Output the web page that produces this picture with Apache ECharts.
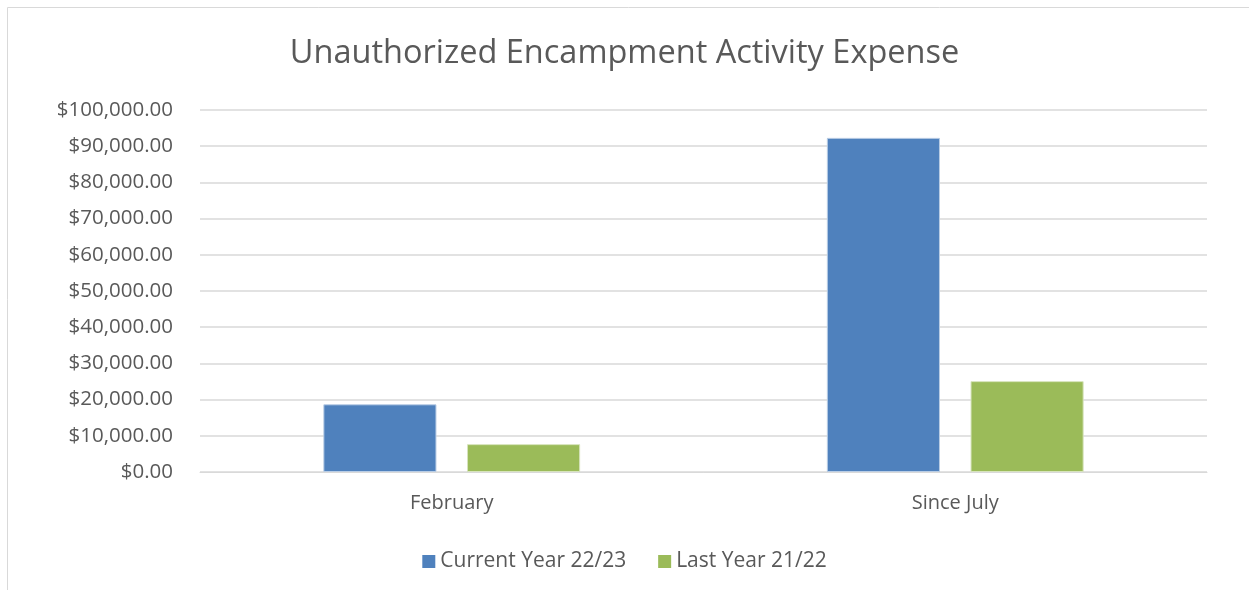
<!DOCTYPE html>
<html><head><meta charset="utf-8">
<script src="https://cdn.jsdelivr.net/npm/echarts@6/dist/echarts.min.js"></script>
<style>html,body{margin:0;padding:0;background:#fff}#c{width:1249px;height:590px}</style>
</head><body><div id="c"></div>
<script>
const categories = ["February", "Since July"];
const currentYear = [18700, 92300];
const lastYear = [7700, 25100];
const seriesNames = ["Current Year 22/23", "Last Year 21/22"];
const titleText = "Unauthorized Encampment Activity Expense";

const chart = echarts.init(document.getElementById('c'));
const font = "'Open Sans', 'Noto Sans', sans-serif";
chart.setOption({
  animation: false,
  textStyle: { fontFamily: font },
  graphic: [{ type: 'rect', shape: { x: 7.5, y: 7.5, width: 1250, height: 600 }, style: { fill: null, stroke: '#d9d9d9', lineWidth: 1 } }],
  title: { text: titleText, left: 'center', top: 32, textStyle: { fontFamily: font, fontSize: 32.5, fontWeight: 'normal', color: '#595959' } },
  legend: { bottom: 13, left: 'center', itemWidth: 13, itemHeight: 13, itemGap: 32, icon: 'rect',
    itemStyle: { borderWidth: 0 },
    textStyle: { fontSize: 21, color: '#595959', fontFamily: font }, data: seriesNames },
  grid: { left: 200, right: 42, top: 110, bottom: 118 },
  xAxis: { type: 'category', data: categories,
    axisLine: { lineStyle: { color: '#d9d9d9' } }, axisTick: { show: false },
    axisLabel: { fontSize: 20, color: '#595959', margin: 21, fontFamily: font } },
  yAxis: { type: 'value', min: 0, max: 100000, interval: 10000,
    axisLine: { show: false }, axisTick: { show: false },
    splitLine: { lineStyle: { color: '#d9d9d9', width: 1.5 } },
    axisLabel: { fontSize: 20.5, color: '#595959', margin: 27, fontFamily: font,
      formatter: v => '$' + v.toLocaleString('en-US', { minimumFractionDigits: 2, maximumFractionDigits: 2 }) } },
  series: [
    { name: seriesNames[0], type: 'bar', data: currentYear, barGap: '27%', barCategoryGap: '49%',
      itemStyle: { color: '#4F81BD', borderColor: '#b9cde5', borderWidth: 1 } },
    { name: seriesNames[1], type: 'bar', data: lastYear,
      itemStyle: { color: '#9BBB59', borderColor: '#d7e4bd', borderWidth: 1 } }
  ]
});
</script></body></html>
